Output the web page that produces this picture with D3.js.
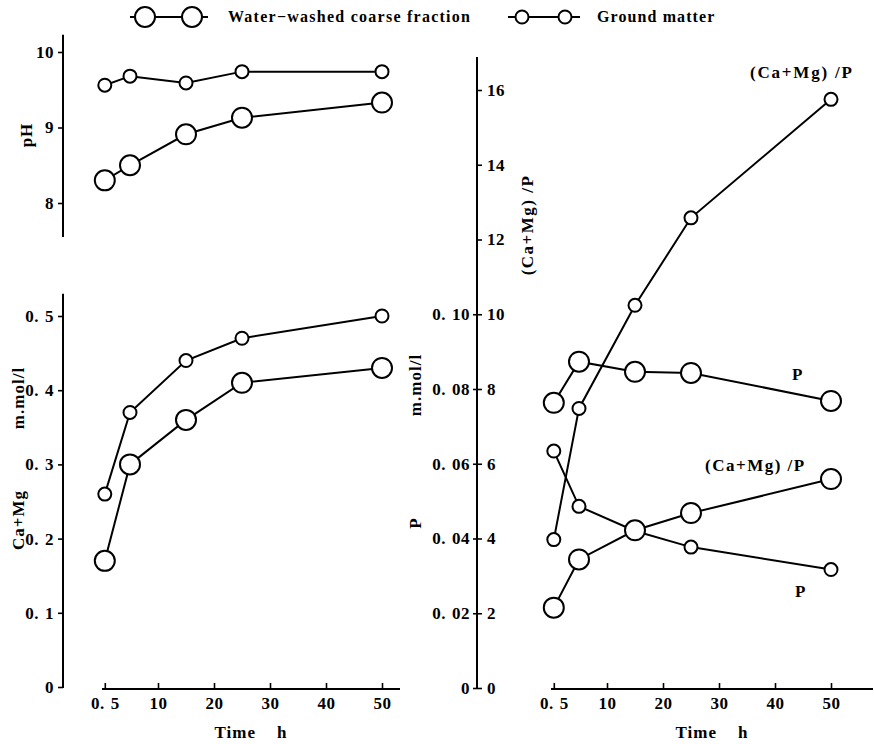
<!DOCTYPE html>
<html><head><meta charset="utf-8">
<script src="https://cdn.jsdelivr.net/npm/d3@7"></script>
<style>
body{margin:0;background:#fff;}
svg text{font-family:"Liberation Serif","DejaVu Serif",serif;font-weight:bold;fill:#000;}
</style></head>
<body>
<svg id="c" width="874" height="744"></svg>
<script>
const times = [0.5, 5, 15, 25, 50];
const xTicks = [0.5, 10, 20, 30, 40, 50];
const xTickLabels = ["0.5", "10", "20", "30", "40", "50"];

const phWashed = [8.30, 8.50, 8.91, 9.13, 9.33];
const phGround = [9.56, 9.68, 9.59, 9.74, 9.74];
const phTicks = [8, 9, 10];

const caWashed = [0.17, 0.30, 0.36, 0.41, 0.43];
const caGround = [0.26, 0.37, 0.44, 0.47, 0.50];
const caTicks = [0, 0.1, 0.2, 0.3, 0.4, 0.5];
const caTickLabels = ["0", "0.1", "0.2", "0.3", "0.4", "0.5"];

const pWashed = [0.0763, 0.0873, 0.0846, 0.0843, 0.0768];
const pGround = [0.0634, 0.0486, 0.0420, 0.0377, 0.0317];
const ratioWashed = [2.15, 3.44, 4.22, 4.68, 5.59];
const ratioGround = [3.97, 7.48, 10.24, 12.58, 15.75];
const pTicks = [0, 0.02, 0.04, 0.06, 0.08, 0.10];
const pTickLabels = ["0", "0.02", "0.04", "0.06", "0.08", "0.10"];
const ratioTicks = [0, 2, 4, 6, 8, 10, 12, 14, 16];

const seriesNames = ["Water\u2212washed coarse fraction", "Ground matter"];

const svg = d3.select("#c");
const R_BIG = 10, R_SMALL = 6.5, SW = 2;
const TFS = 17;

// scales
const xL = d3.scaleLinear().domain([0, 50]).range([102, 382]);
const xR = d3.scaleLinear().domain([0, 50]).range([551, 831]);
const yPH = d3.scaleLinear().domain([8, 10]).range([203, 52]);
const yCa = d3.scaleLinear().domain([0, 0.5]).range([687, 316]);
const yRatio = d3.scaleLinear().domain([0, 16]).range([688, 90]);
const yP = d3.scaleLinear().domain([0, 0.16]).range([688, 90]);

function widenPoint(sel) {
  sel.each(function () {
    const t = d3.select(this);
    const s = t.text();
    if (s.includes(".")) {
      const [a, b] = s.split(".");
      t.text("");
      t.append("tspan").text(a + ".");
      t.append("tspan").attr("dx", 6).text(b);
    }
  });
}
function styleAxis(g, fs) {
  g.selectAll("path.domain").remove();
  g.selectAll("line").attr("stroke", "#000").attr("stroke-width", 1.6);
  g.selectAll("text").attr("font-size", fs).attr("letter-spacing", "0.5px").call(widenPoint);
}
function vline(x, y1, y2) {
  svg.append("line").attr("x1", x).attr("x2", x).attr("y1", y1).attr("y2", y2)
    .attr("stroke", "#000").attr("stroke-width", SW);
}
function hline(x1, x2, y) {
  svg.append("line").attr("x1", x1).attr("x2", x2).attr("y1", y).attr("y2", y)
    .attr("stroke", "#000").attr("stroke-width", SW);
}

// ---- pH panel
const axPH = 63;
vline(axPH, yPH(10.23), yPH(7.55));
svg.append("g").attr("transform", `translate(${axPH},0)`)
  .call(d3.axisLeft(yPH).tickValues(phTicks).tickSize(5).tickPadding(4).tickFormat(d3.format("d")))
  .call(g => styleAxis(g, TFS));

// ---- Ca+Mg panel
vline(axPH, yCa(0.53), yCa(0) + 1);
svg.append("g").attr("transform", `translate(${axPH},0)`)
  .call(d3.axisLeft(yCa).tickValues(caTicks).tickSize(5).tickPadding(4).tickFormat((d, i) => caTickLabels[i]))
  .call(g => styleAxis(g, TFS));
const xAxY = 689;
hline(xL(0), 400, xAxY);
svg.append("g").attr("transform", `translate(0,${xAxY})`)
  .call(d3.axisBottom(xL).tickValues(xTicks).tickSize(-6).tickPadding(8).tickFormat((d, i) => xTickLabels[i]))
  .call(g => styleAxis(g, TFS));

// ---- right panel
const axR = 477;
vline(axR, 57, yRatio(0) + 1);
svg.append("g").attr("transform", `translate(${axR},0)`)
  .call(d3.axisRight(yRatio).tickValues(ratioTicks).tickSize(5).tickPadding(5).tickFormat(d3.format("d")))
  .call(g => styleAxis(g, TFS));
svg.append("g").attr("transform", `translate(${axR},0)`)
  .call(d3.axisLeft(yP).tickValues(pTicks).tickSize(4).tickPadding(3).tickFormat((d, i) => pTickLabels[i]))
  .call(g => styleAxis(g, TFS));
hline(xR(0), 873, xAxY);
svg.append("g").attr("transform", `translate(0,${xAxY})`)
  .call(d3.axisBottom(xR).tickValues(xTicks).tickSize(-6).tickPadding(8).tickFormat((d, i) => xTickLabels[i]))
  .call(g => styleAxis(g, TFS));

// ---- series
function series(xs, ys, xScale, yScale, r) {
  const line = d3.line().x((d, i) => xScale(xs[i])).y(d => yScale(d));
  svg.append("path").attr("d", line(ys)).attr("fill", "none")
    .attr("stroke", "#000").attr("stroke-width", SW);
  svg.append("g").selectAll("circle").data(ys).join("circle")
    .attr("cx", (d, i) => xScale(xs[i])).attr("cy", d => yScale(d)).attr("r", r)
    .attr("fill", "#fff").attr("stroke", "#000").attr("stroke-width", SW);
}
series(times, phGround, xL, yPH, R_SMALL);
series(times, phWashed, xL, yPH, R_BIG);
series(times, caGround, xL, yCa, R_SMALL);
series(times, caWashed, xL, yCa, R_BIG);
series(times, ratioGround, xR, yRatio, R_SMALL);
series(times, pGround, xR, yP, R_SMALL);
series(times, ratioWashed, xR, yRatio, R_BIG);
series(times, pWashed, xR, yP, R_BIG);

// ---- labels
function rotLabel(x, y, txt, fs, ls) {
  svg.append("text").attr("transform", `translate(${x},${y}) rotate(-90)`)
    .attr("text-anchor", "middle").attr("font-size", fs).attr("letter-spacing", (ls || 1) + "px").text(txt);
}
function label(x, y, txt, fs, anchor, ls) {
  svg.append("text").attr("x", x).attr("y", y).attr("text-anchor", anchor || "start")
    .attr("font-size", fs).attr("letter-spacing", (ls || 1) + "px").attr("xml:space", "preserve").text(txt);
}
rotLabel(32, 135, "pH", 17);
rotLabel(24, 520, "Ca+Mg", 17);
rotLabel(24, 398, "m.mol/l", 17);
rotLabel(421, 523, "P", 17);
rotLabel(421, 385, "m.mol/l", 17);
rotLabel(533, 225, "(Ca+Mg) /P", 17, 1.5);
label(251, 738, "Time    h", 17, "middle");
label(712, 738, "Time    h", 17, "middle");
label(750, 78, "(Ca+Mg) /P", 17, "start", 1.8);
label(792, 380, "P", 17);
label(705, 471, "(Ca+Mg) /P", 17, "start", 1.5);
label(795, 597, "P", 17);

// ---- legend
const ly = 17;
hline(130, 208, ly);
[145, 192].forEach(cx => svg.append("circle").attr("cx", cx).attr("cy", ly).attr("r", R_BIG)
  .attr("fill", "#fff").attr("stroke", "#000").attr("stroke-width", SW));
label(228, ly + 5, seriesNames[0], 16, "start", 1.25);
hline(508, 580, ly);
[522, 565].forEach(cx => svg.append("circle").attr("cx", cx).attr("cy", ly).attr("r", R_SMALL)
  .attr("fill", "#fff").attr("stroke", "#000").attr("stroke-width", SW));
label(597, ly + 5, seriesNames[1], 16, "start", 1.1);
</script>
</body></html>
